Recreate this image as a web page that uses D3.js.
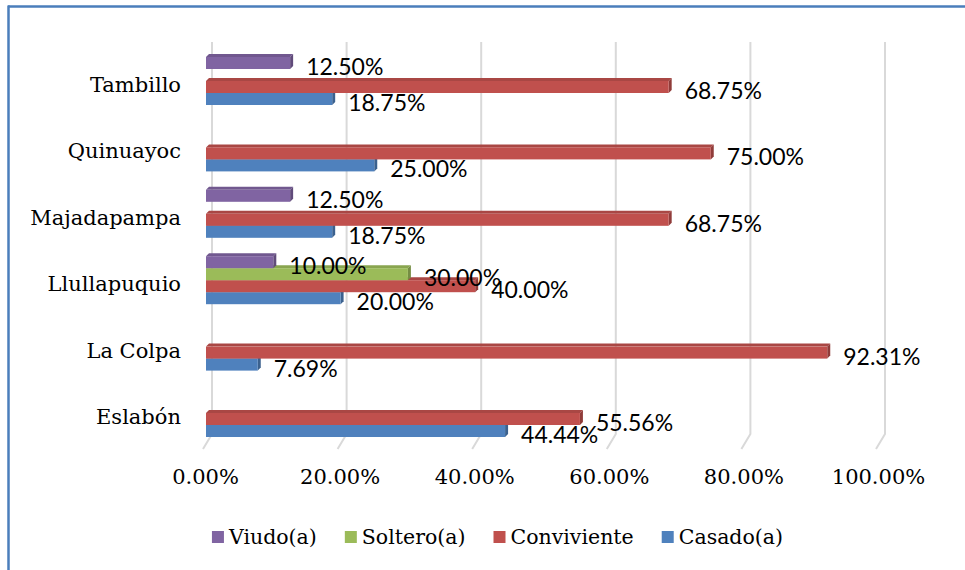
<!DOCTYPE html>
<html>
<head>
<meta charset="utf-8">
<script src="https://cdn.jsdelivr.net/npm/d3@7"></script>
<style>
  html, body { margin: 0; padding: 0; background: #fff; }
  svg { display: block; }
</style>
</head>
<body>
<svg id="chart" width="965" height="570"></svg>
<script>
// Marital status by community (percent of households)
const categories = ["Tambillo", "Quinuayoc", "Majadapampa", "Llullapuquio", "La Colpa", "Eslabón"];
const seriesNames = ["Viudo(a)", "Soltero(a)", "Conviviente", "Casado(a)"];
const seriesColors = ["#8064a2", "#9bbb59", "#c0504d", "#4f81bd"];
const viudo       = [12.50, null, 12.50, 10.00, null, null];
const soltero     = [null, null, null, 30.00, null, null];
const conviviente = [68.75, 75.00, 68.75, 40.00, 92.31, 55.56];
const casado      = [18.75, 25.00, 18.75, 20.00, 7.69, 44.44];
const xTicks = [0, 20, 40, 60, 80, 100];

const seriesValues = [viudo, soltero, conviviente, casado];

const svg = d3.select("#chart");

// frame lines along the top and left edge
svg.append("line").attr("x1", 8).attr("y1", 6.5).attr("x2", 965).attr("y2", 6.5)
  .attr("stroke", "#4a7ebb").attr("stroke-width", 2.5);
svg.append("line").attr("x1", 8.5).attr("y1", 5.5).attr("x2", 8.5).attr("y2", 570)
  .attr("stroke", "#4a7ebb").attr("stroke-width", 2.5);

const x = d3.scaleLinear().domain([0, 100]).range([206, 879]);
const y = d3.scaleBand().domain(categories).range([47.8, 446.2])
  .paddingInner(0.277).paddingOuter(0.1385);
const ySub = d3.scaleBand().domain(seriesNames).range([0, y.bandwidth()]);

// back wall offset and floor depth
const wallDx = 6, wallTop = 42, wallBottom = 434;
const floorDx = -3, floorY = 449;
const depth = 3;

// gridlines on the back wall folding down onto the floor
const grid = svg.append("g");
xTicks.forEach(t => {
  const gx = x(t) + wallDx;
  grid.append("path")
    .attr("d", `M${gx},${wallTop}L${gx},${wallBottom}L${x(t) + floorDx},${floorY}`)
    .attr("fill", "none").attr("stroke", "#d9d9d9").attr("stroke-width", 2);
});

// tick labels
const axis = d3.axisBottom(x).tickValues(xTicks).tickSize(0)
  .tickFormat(d => d.toFixed(2) + "%");
const axisG = svg.append("g").attr("transform", "translate(-1,466)").call(axis);
axisG.select(".domain").remove();
axisG.selectAll("text")
  .attr("font-family", "'DejaVu Serif', serif").attr("font-size", 21)
  .attr("fill", "#000").attr("dy", "0.71em");

// category labels
svg.append("g").selectAll("text").data(categories).join("text")
  .attr("x", 181).attr("y", d => y(d) + y.bandwidth() / 2 + 4)
  .attr("text-anchor", "end").attr("dominant-baseline", "central")
  .attr("font-family", "'DejaVu Serif', serif").attr("font-size", 21)
  .attr("fill", "#000").text(d => d);

// bars with a shallow 3D extrusion
const shade = (c, k) => d3.color(c).darker(k).formatHex();
const bars = [];
seriesNames.forEach((s, si) => {
  categories.forEach((c, ci) => {
    const v = seriesValues[si][ci];
    if (v == null) return;
    bars.push({ s, si, c, v });
  });
});

const barG = svg.append("g");
// draw bottom rows first so upper top faces stay visible
bars.sort((a, b) => (y(b.c) + ySub(b.s)) - (y(a.c) + ySub(a.s)));
bars.forEach(b => {
  const x0 = x(0), x1 = x(b.v);
  const y0 = y(b.c) + ySub(b.s), h = ySub.bandwidth();
  const col = seriesColors[b.si];
  const g = barG.append("g");
  // top face
  g.append("path")
    .attr("d", `M${x0},${y0}L${x0 + depth},${y0 - depth}L${x1 + depth},${y0 - depth}L${x1},${y0}Z`)
    .attr("fill", shade(col, 0.35));
  // right face
  g.append("path")
    .attr("d", `M${x1},${y0}L${x1 + depth},${y0 - depth}L${x1 + depth},${y0 + h - depth}L${x1},${y0 + h}Z`)
    .attr("fill", shade(col, 0.8));
  // front face
  g.append("rect").attr("x", x0).attr("y", y0).attr("width", x1 - x0).attr("height", h)
    .attr("fill", col);
});

// value labels
svg.append("g").selectAll("text").data(bars).join("text")
  .attr("x", d => x(d.v) + depth + 13)
  .attr("y", d => y(d.c) + ySub(d.s) + ySub.bandwidth() / 2 + 3)
  .attr("dominant-baseline", "central")
  .attr("font-family", "Lato, sans-serif").attr("font-size", 23)
  .attr("fill", "#000")
  .text(d => d.v.toFixed(2) + "%");

// legend
const legend = svg.append("g");
const items = legend.selectAll("g").data(seriesNames).join("g");
items.append("rect").attr("width", 12).attr("height", 12).attr("y", -6)
  .attr("fill", (d, i) => seriesColors[i]);
items.append("text").attr("x", 17).attr("dominant-baseline", "central")
  .attr("font-family", "'DejaVu Serif', serif").attr("font-size", 20.5)
  .attr("fill", "#000").text(d => d);
let cursor = 0;
const offsets = [];
items.each(function () {
  offsets.push(cursor);
  const w = 17 + d3.select(this).select("text").node().getComputedTextLength();
  cursor += w + 28;
});
const totalW = cursor - 28;
const startX = 497.5 - totalW / 2;
items.attr("transform", (d, i) => `translate(${startX + offsets[i]},537)`);
</script>
</body>
</html>
